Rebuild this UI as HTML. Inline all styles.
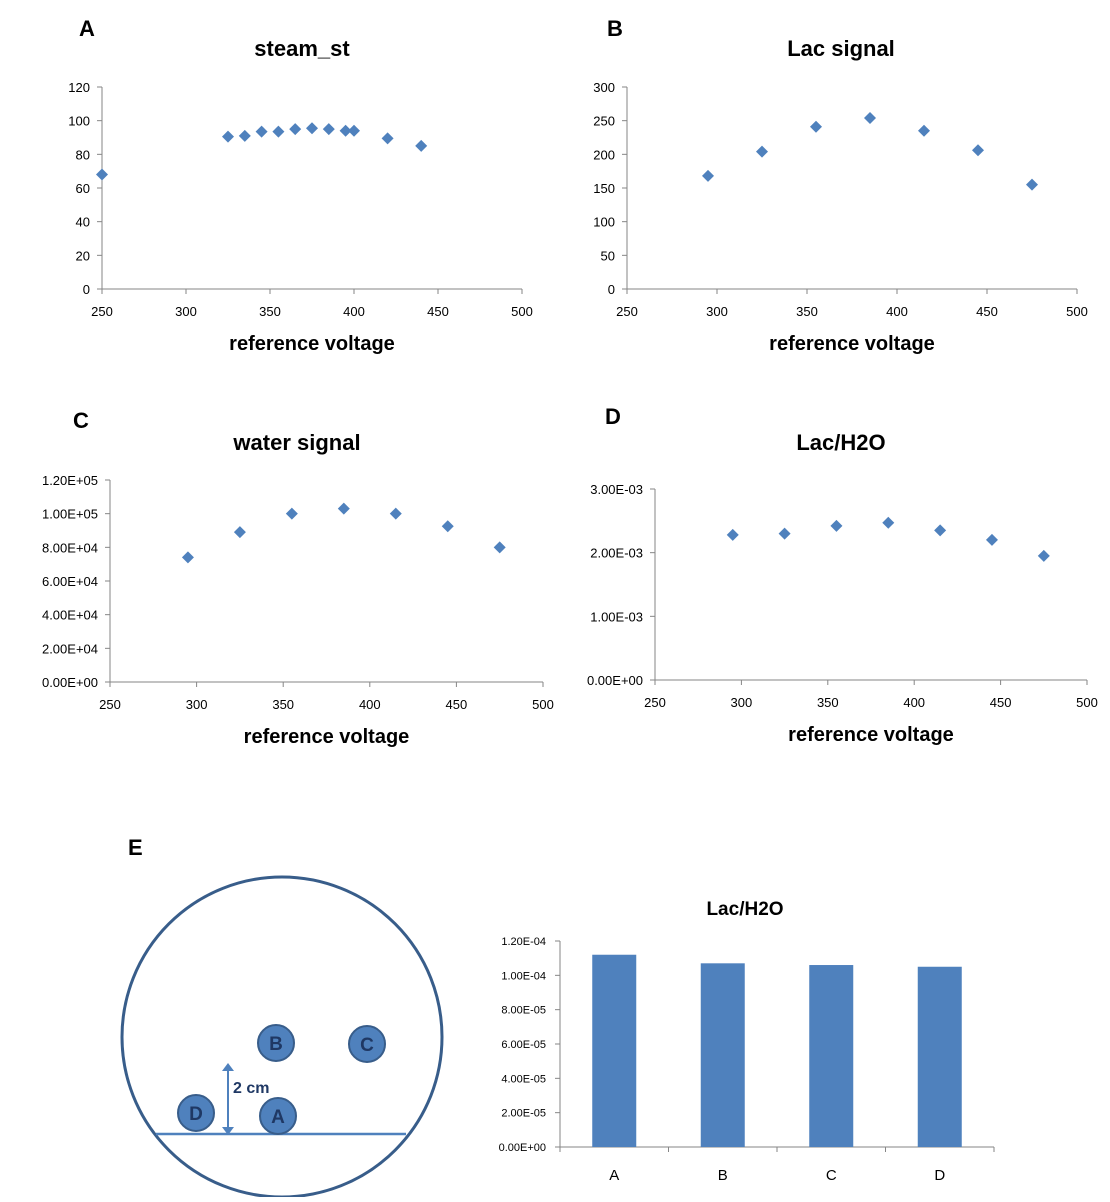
<!DOCTYPE html>
<html><head><meta charset="utf-8"><style>
body{margin:0;background:#fff;}
svg text{font-family:"Liberation Sans",sans-serif;fill:#000;}
</style></head><body>
<svg id="s" width="1110" height="1197" xmlns="http://www.w3.org/2000/svg">
<g>
<circle cx="282" cy="1037" r="160" fill="none" stroke="#385d8a" stroke-width="3"/>
<line x1="156" y1="1134" x2="406" y2="1134" stroke="#4f81bd" stroke-width="2.5"/>
<line x1="228" y1="1070" x2="228" y2="1128" stroke="#4f81bd" stroke-width="2"/>
<polygon points="222,1071 234,1071 228,1063" fill="#4f81bd"/>
<polygon points="222,1127 234,1127 228,1135" fill="#4f81bd"/>
<text x="233" y="1093" font-size="16" font-weight="bold" style="fill:#1f3864">2 cm</text>
<g><circle cx="276" cy="1043" r="18" fill="#4f81bd" stroke="#385d8a" stroke-width="2"/><text x="276" y="1050" font-size="19" font-weight="bold" text-anchor="middle" style="fill:#1f3864">B</text></g>
<g><circle cx="367" cy="1044" r="18" fill="#4f81bd" stroke="#385d8a" stroke-width="2"/><text x="367" y="1051" font-size="19" font-weight="bold" text-anchor="middle" style="fill:#1f3864">C</text></g>
<g><circle cx="196" cy="1113" r="18" fill="#4f81bd" stroke="#385d8a" stroke-width="2"/><text x="196" y="1120" font-size="19" font-weight="bold" text-anchor="middle" style="fill:#1f3864">D</text></g>
<g><circle cx="278" cy="1116" r="18" fill="#4f81bd" stroke="#385d8a" stroke-width="2"/><text x="278" y="1123" font-size="19" font-weight="bold" text-anchor="middle" style="fill:#1f3864">A</text></g>
</g>
</svg>
<script>
const aX=[250,325,335,345,355,365,375,385,395,400,420,440];
const aY=[68,90.5,91,93.5,93.5,95,95.5,95,94,94,89.5,85];
const bX=[295,325,355,385,415,445,475];
const bY=[168,204,241,254,235,206,155];
const cX=[295,325,355,385,415,445,475];
const cY=[74000,89000,100000,103000,100000,92500,80000];
const dX=[295,325,355,385,415,445,475];
const dY=[0.00228,0.0023,0.00242,0.00247,0.00235,0.0022,0.00195];
const xTicks=[250,300,350,400,450,500];
const aTicks=[0,20,40,60,80,100,120];
const bTicks=[0,50,100,150,200,250,300];
const cTicks=["0.00E+00","2.00E+04","4.00E+04","6.00E+04","8.00E+04","1.00E+05","1.20E+05"];
const dTicks=["0.00E+00","1.00E-03","2.00E-03","3.00E-03"];
const eCats=["A","B","C","D"];
const eVals=[0.000112,0.000107,0.000106,0.000105];
const eTicks=["0.00E+00","2.00E-05","4.00E-05","6.00E-05","8.00E-05","1.00E-04","1.20E-04"];
const svg=document.getElementById('s');
const NS='http://www.w3.org/2000/svg';
function mk(tag,at,parent,txt){const e=document.createElementNS(NS,tag);for(const k in at)e.setAttribute(k,at[k]);if(txt!==undefined)e.textContent=txt;(parent||svg).appendChild(e);return e;}
function scatter(p){
 const g=mk('g',{});
 
 
 const xs=v=>p.x0+(v-250)/250*(p.x1-p.x0);
 const ys=v=>p.y0-(v/p.ymax)*(p.y0-p.y1);
 const ax=mk('line',{x1:p.x0,y1:p.y0,x2:p.x1,y2:p.y0,stroke:'#868686','stroke-width':1},g);
 
 
 const ay=mk('line',{x1:p.x0,y1:p.y0,x2:p.x0,y2:p.y1,stroke:'#868686','stroke-width':1},g);
 
 
 xTicks.forEach(t=>{const x=xs(t);mk('line',{x1:x,y1:p.y0,x2:x,y2:p.y0+5,stroke:'#868686'},g);
  const l=mk('text',{x:x,y:p.y0+27,'font-size':13,'text-anchor':'middle'},g,t);
  
  });
 p.ticks.forEach((t,i)=>{const v=i*p.ymax/(p.ticks.length-1);const y=ys(v);mk('line',{x1:p.x0-5,y1:y,x2:p.x0,y2:y,stroke:'#868686'},g);
  const l=mk('text',{x:p.x0-12,y:y+5,'font-size':13,'text-anchor':'end'},g,t);
  
  });
 p.X.forEach((xv,i)=>{const x=xs(xv),y=ys(p.Y[i]);
  const m=mk('polygon',{points:`${x},${y-6} ${x+6},${y} ${x},${y+6} ${x-6},${y}`,fill:'#4f81bd'},g);
  
  });
 const tt=mk('text',{x:p.tx,y:p.ty,'font-size':22,'font-weight':'bold','text-anchor':'middle'},g,p.title);
 
 
 const xt=mk('text',{x:(p.x0+p.x1)/2,y:p.y0+61,'font-size':20,'font-weight':'bold','text-anchor':'middle'},g,'reference voltage');
 
 
 const pl=mk('text',{x:p.lx,y:p.ly,'font-size':22,'font-weight':'bold'},g,p.letter);
 
 
}
scatter({name:'panel-a-chart',x0:102,x1:522,y0:289,y1:87,ymax:120,ticks:aTicks,X:aX,Y:aY,title:'steam_st',tx:302,ty:56,letter:'A',lx:79,ly:36});
scatter({name:'panel-b-chart',x0:627,x1:1077,y0:289,y1:87,ymax:300,ticks:bTicks,X:bX,Y:bY,title:'Lac signal',tx:841,ty:56,letter:'B',lx:607,ly:36});
scatter({name:'panel-c-chart',x0:110,x1:543,y0:682,y1:480,ymax:120000,ticks:cTicks,X:cX,Y:cY,title:'water signal',tx:297,ty:450,letter:'C',lx:73,ly:428});
scatter({name:'panel-d-chart',x0:655,x1:1087,y0:680,y1:489,ymax:0.003,ticks:dTicks,X:dX,Y:dY,title:'Lac/H2O',tx:841,ty:450,letter:'D',lx:605,ly:424});
const eL=mk('text',{x:128,y:855,'font-size':22,'font-weight':'bold'},svg,'E');


(function(){
 const g=mk('g',{});
 
 
 const x0=560,x1=994,y0=1147,y1=941,ymax=0.00012;
 const ys=v=>y0-v/ymax*(y0-y1);
 const bw=(x1-x0)/eCats.length;
 mk('line',{x1:x0,y1:y0,x2:x1,y2:y0,stroke:'#868686'},g);
 mk('line',{x1:x0,y1:y0,x2:x0,y2:y1,stroke:'#868686'},g);
 eTicks.forEach((t,i)=>{const y=ys(i*ymax/(eTicks.length-1));mk('line',{x1:x0-5,y1:y,x2:x0,y2:y,stroke:'#868686'},g);
  const l=mk('text',{x:x0-14,y:y+4,'font-size':11,'text-anchor':'end'},g,t);
  
  });
 for(let i=0;i<=eCats.length;i++){mk('line',{x1:x0+i*bw,y1:y0,x2:x0+i*bw,y2:y0+5,stroke:'#868686'},g);}
 eCats.forEach((c,i)=>{const cx=x0+(i+0.5)*bw;
  const b=mk('rect',{x:cx-22,y:ys(eVals[i]),width:44,height:y0-ys(eVals[i]),fill:'#4f81bd'},g);
  
  
  const l=mk('text',{x:cx,y:y0+33,'font-size':15,'text-anchor':'middle'},g,c);
  
  });
 const t=mk('text',{x:745,y:915,'font-size':19,'font-weight':'bold','text-anchor':'middle'},g,'Lac/H2O');
 
 
})();
</script>
</body></html>
